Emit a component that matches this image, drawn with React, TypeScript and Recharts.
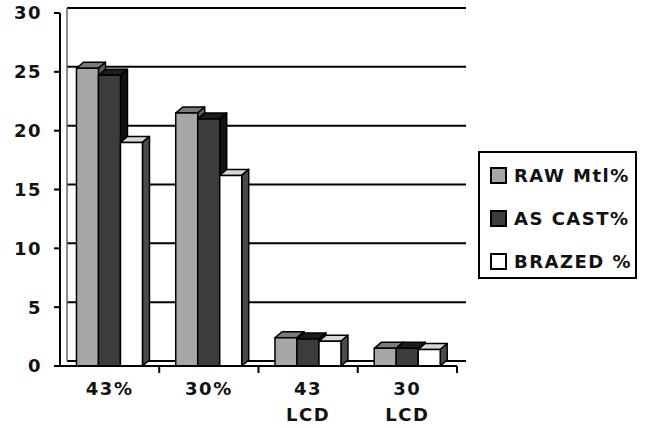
import { Bar, BarChart, CartesianGrid, XAxis, YAxis } from "recharts";

const categories = ["43%", "30%", "43 LCD", "30 LCD"];
const rawMtl = [25.3, 21.5, 2.4, 1.5];
const asCast = [24.7, 21.0, 2.3, 1.5];
const brazed = [19.0, 16.2, 2.1, 1.4];
const seriesNames = ["RAW Mtl%", "AS CAST%", "BRAZED %"];
const yTicks = [0, 5, 10, 15, 20, 25, 30];

const FONT = '"DejaVu Sans", Verdana, sans-serif';
const PLOT_LEFT = 60;
const PLOT_RIGHT = 457;
const BAND = (PLOT_RIGHT - PLOT_LEFT) / categories.length;

const data = categories.map((name, i) => ({
  name,
  raw: rawMtl[i],
  cast: asCast[i],
  brazed: brazed[i],
}));

const looks = [
  { key: "raw", front: "#a6a6a6", top: "#7a7a7a", side: "#5e5e5e" },
  { key: "cast", front: "#3c3c3c", top: "#1c1c1c", side: "#111111" },
  { key: "brazed", front: "#ffffff", top: "#d8d8d8", side: "#4a4a4a" },
];

type BoxProps = {
  x?: number;
  y?: number;
  width?: number;
  height?: number;
  fill?: string;
  top: string;
  side: string;
};

function Box3D({ x = 0, y = 0, width = 0, height = 0, fill, top, side }: BoxProps) {
  if (height <= 0) return null;
  const dx = 7;
  const dy = 6;
  return (
    <g stroke="#000" strokeWidth={1.5} strokeLinejoin="round">
      <polygon
        points={`${x},${y} ${x + dx},${y - dy} ${x + width + dx},${y - dy} ${x + width},${y}`}
        fill={top}
      />
      <polygon
        points={`${x + width},${y} ${x + width + dx},${y - dy} ${x + width + dx},${y + height - dy} ${x + width},${y + height}`}
        fill={side}
      />
      <rect x={x} y={y} width={width} height={height} fill={fill} />
    </g>
  );
}

function CategoryTick({ x, y, payload }: any) {
  const lines = String(payload.value).split(" ");
  const edge = x + BAND / 2;
  return (
    <g>
      <line x1={edge} y1={y} x2={edge} y2={y + 7} stroke="#000" strokeWidth={2} />
      <text
        x={x}
        y={y}
        textAnchor="middle"
        fontFamily={FONT}
        fontWeight="bold"
        fontSize={18}
        letterSpacing={1.5}
        fill="#111"
      >
        {lines.map((line, i) => (
          <tspan key={i} x={x} dy={i === 0 ? 29 : 26}>
            {line}
          </tspan>
        ))}
      </text>
    </g>
  );
}

export default function App() {
  return (
    <div
      style={{
        position: "absolute",
        left: 0,
        top: 0,
        width: 652,
        height: 428,
        background: "#fff",
      }}
    >
      <BarChart
        width={652}
        height={428}
        data={data}
        margin={{ top: 13, right: 652 - PLOT_RIGHT, bottom: 2, left: 0 }}
        barCategoryGap="16.6%"
        barGap={0}
      >
        <CartesianGrid
          horizontal={(p: any) => (
            <line
              key={`h-${p.index}`}
              x1={p.x1 + 7}
              y1={p.y1 - 5}
              x2={p.x2 + 9}
              y2={p.y2 - 5}
              stroke="#000"
              strokeWidth={2}
            />
          )}
          vertical={(p: any) => (
            <line
              key={`v-${p.index}`}
              x1={p.x1 + 7}
              y1={p.y1 - 5}
              x2={p.x2 + 7}
              y2={p.y2 - 5}
              stroke="#666"
              strokeWidth={1.5}
            />
          )}
          verticalCoordinatesGenerator={({ offset }: any) => [offset.left]}
        />
        <XAxis
          dataKey="name"
          height={60}
          tickLine={false}
          tickSize={0}
          tickMargin={0}
          interval={0}
          axisLine={{ stroke: "#000", strokeWidth: 2 }}
          tick={<CategoryTick />}
        />
        <YAxis
          domain={[0, 30]}
          ticks={yTicks}
          interval={0}
          width={PLOT_LEFT}
          tickSize={6}
          tickMargin={12}
          axisLine={{ stroke: "#000", strokeWidth: 2 }}
          tickLine={{ stroke: "#000", strokeWidth: 2 }}
          tick={{
            fill: "#111",
            fontFamily: FONT,
            fontWeight: "bold",
            fontSize: 18,
            letterSpacing: 1.5,
          }}
        />
        {looks.map((s, i) => (
          <Bar
            key={s.key}
            dataKey={s.key}
            name={seriesNames[i]}
            fill={s.front}
            isAnimationActive={false}
            shape={(p: any) => <Box3D {...p} top={s.top} side={s.side} />}
          />
        ))}
      </BarChart>
      <div
        style={{
          position: "absolute",
          left: 478,
          top: 151,
          width: 155,
          height: 124,
          border: "2px solid #000",
          overflow: "hidden",
          fontFamily: FONT,
          fontWeight: "bold",
          fontSize: 18,
          letterSpacing: 1.5,
          color: "#111",
        }}
      >
        {seriesNames.map((name, i) => (
          <div
            key={name}
            style={{
              position: "absolute",
              left: 10,
              top: 11 + i * 43,
              height: 22,
              display: "flex",
              alignItems: "center",
              whiteSpace: "nowrap",
            }}
          >
            <span
              style={{
                display: "inline-block",
                width: 13,
                height: 13,
                border: "2px solid #000",
                background: looks[i].front,
                marginRight: 7,
              }}
            />
            {name}
          </div>
        ))}
      </div>
    </div>
  );
}
